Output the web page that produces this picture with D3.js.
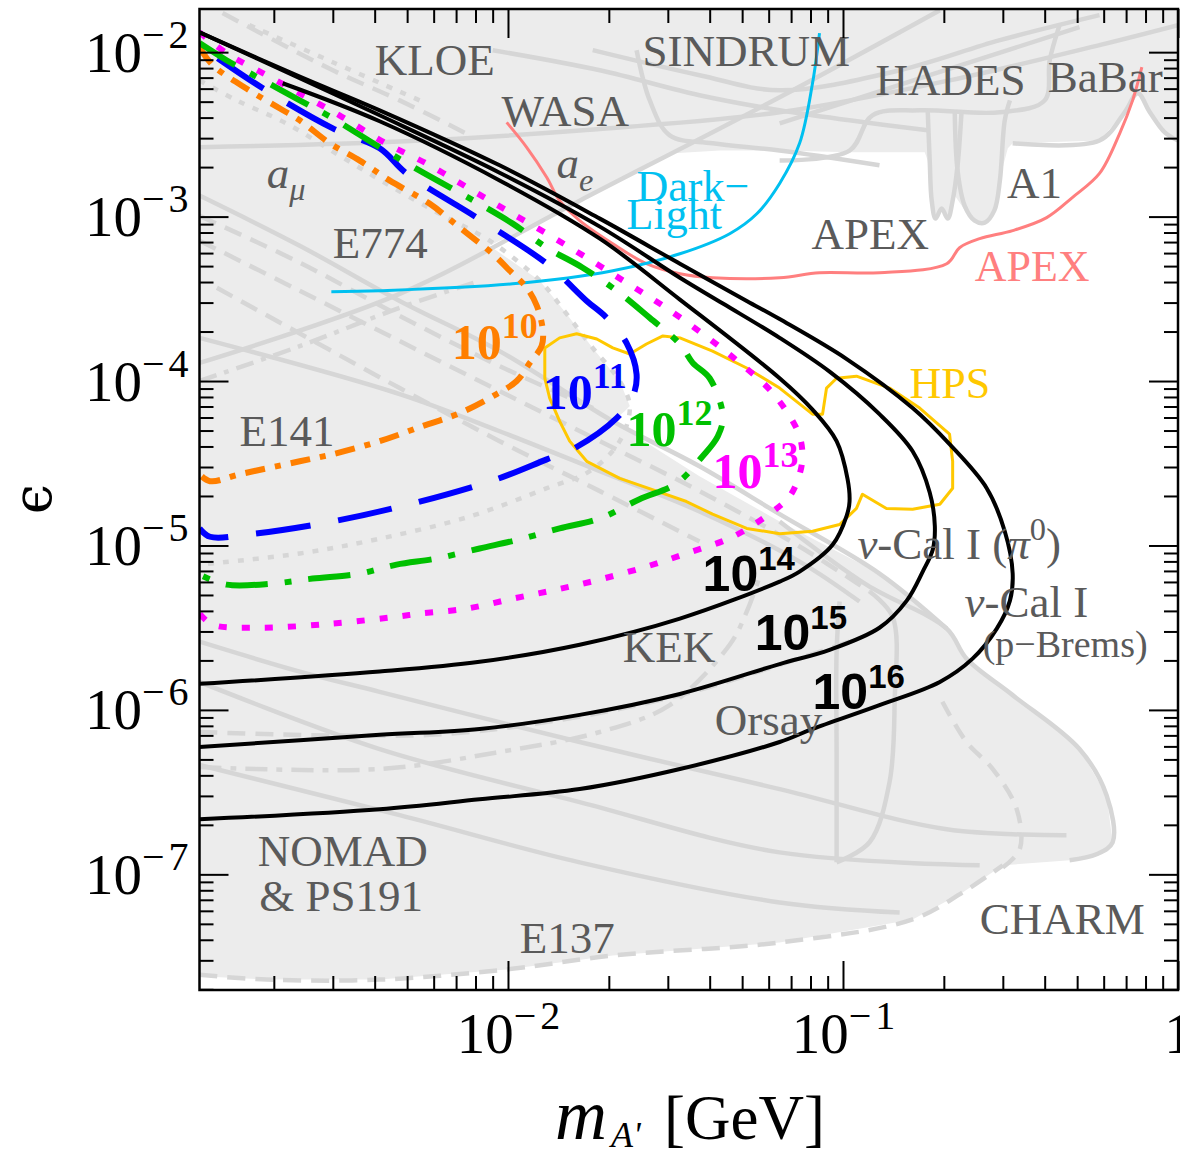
<!DOCTYPE html>
<html><head><meta charset="utf-8">
<script src="https://cdn.jsdelivr.net/npm/d3@7"></script>
<style>body{margin:0;background:#fff}svg{display:block}</style>
</head><body>
<svg id="chart" width="1180" height="1155"></svg>
<script>
// ---------------- DATA (mass in GeV, epsilon) ----------------
const xDomain = [0.0012, 1];
const yDomain = [1.98e-8, 0.0183];
const xTickValues = [0.01, 0.1, 1];
const xTickLabels = [["10","−2"],["10","−1"],["1",""]];
const yTickValues = [1e-7,1e-6,1e-5,1e-4,1e-3,1e-2];
const yTickLabels = [["10","−7"],["10","−6"],["10","−5"],["10","−4"],["10","−3"],["10","−2"]];

const contour10 = [[1.20e-3,1.072e-2],[1.315e-3,8.33e-3],[1.69e-3,5.86e-3],[2.08e-3,4.56e-3],[2.39e-3,3.85e-3],[2.94e-3,2.79e-3],[3.61e-3,2.19e-3],[4.43e-3,1.66e-3],[5.83e-3,1.20e-3],[7.18e-3,8.57e-4],[9.0e-3,5.94e-4],[1.012e-2,4.69e-4],[1.137e-2,3.69e-4],[1.219e-2,2.87e-4],[1.271e-2,2.02e-4],[1.26e-2,1.63e-4],[1.162e-2,1.29e-4],[1.062e-2,1.0e-4],[9.25e-3,8.33e-5],[7.18e-3,6.38e-5],[5.56e-3,5.32e-5],[4.14e-3,4.31e-5],[3.0e-3,3.59e-5],[2.39e-3,3.25e-5],[1.58e-3,2.71e-5],[1.29e-3,2.46e-5],[1.20e-3,2.71e-5]];
const contour11 = [[1.36e-3,9.18e-3],[1.855e-3,6.03e-3],[3.0e-3,3.44e-3],[4.14e-3,2.60e-3],[4.98e-3,1.83e-3],[8.07e-3,9.86e-4],[1.306e-2,5.17e-4],[1.718e-2,3.07e-4],[1.972e-2,2.42e-4],[2.26e-2,1.70e-4],[2.42e-2,1.10e-4],[2.36e-2,8.11e-5],[2.11e-2,5.95e-5],[1.56e-2,3.85e-5],[1.306e-2,3.34e-5],[9.25e-3,2.53e-5],[5.19e-3,1.80e-5],[3.0e-3,1.40e-5],[1.69e-3,1.17e-5],[1.29e-3,1.13e-5],[1.20e-3,1.27e-5]];
const contour12 = [[1.20e-3,1.135e-2],[1.445e-3,8.93e-3],[1.81e-3,6.94e-3],[2.39e-3,5.09e-3],[3.0e-3,3.96e-3],[4.14e-3,2.64e-3],[5.45e-3,1.905e-3],[8.07e-3,1.22e-3],[1.033e-2,9.06e-4],[1.306e-2,6.47e-4],[1.671e-2,4.89e-4],[2.11e-2,3.54e-4],[2.65e-2,2.42e-4],[3.26e-2,1.68e-4],[3.56e-2,1.29e-4],[4.0e-2,1.04e-4],[4.38e-2,6.12e-5],[4.23e-2,4.62e-5],[3.81e-2,3.49e-5],[3.19e-2,2.39e-5],[2.47e-2,1.91e-5],[1.88e-2,1.46e-5],[1.426e-2,1.27e-5],[1.084e-2,1.09e-5],[8.23e-3,9.59e-6],[6.12e-3,8.33e-6],[4.65e-3,7.65e-6],[3.61e-3,6.75e-6],[2.61e-3,6.29e-6],[1.99e-3,5.87e-6],[1.445e-3,5.78e-6],[1.20e-3,6.65e-6]];
const contour13 = [[1.20e-3,1.32e-2],[1.445e-3,9.86e-3],[1.905e-3,7.24e-3],[2.39e-3,5.62e-3],[3.14e-3,4.13e-3],[4.28e-3,2.82e-3],[5.72e-3,2.10e-3],[7.58e-3,1.50e-3],[9.91e-3,1.09e-3],[1.306e-2,7.87e-4],[1.718e-2,5.62e-4],[2.26e-2,3.96e-4],[2.90e-2,2.87e-4],[3.81e-2,1.94e-4],[4.85e-2,1.32e-4],[6.17e-2,8.45e-5],[7.33e-2,4.95e-5],[7.57e-2,3.59e-5],[7.42e-2,2.71e-5],[6.93e-2,1.99e-5],[6.17e-2,1.61e-5],[4.69e-2,1.13e-5],[3.41e-2,8.94e-6],[2.59e-2,7.44e-6],[1.88e-2,6.21e-6],[1.397e-2,5.39e-6],[1.033e-2,4.75e-6],[7.53e-3,4.13e-6],[5.45e-3,3.85e-6],[4.65e-3,3.69e-6],[2.94e-3,3.34e-6],[1.81e-3,3.16e-6],[1.315e-3,3.30e-6],[1.20e-3,3.85e-6]];
const contour14 = [[2.125e-3,6.47e-3],[4.14e-3,3.80e-3],[9.44e-3,1.66e-3],[1.88e-2,7.34e-4],[3.26e-2,3.13e-4],[6.47e-2,1.04e-4],[8.11e-2,6.70e-5],[9.57e-2,4.31e-5],[0.1032,2.53e-5],[0.1046,1.85e-5],[0.1026,1.52e-5],[9.31e-2,1.01e-5],[7.42e-2,6.94e-6],[6.47e-2,6.03e-6],[3.26e-2,3.59e-6],[1.637e-2,2.49e-6],[8.23e-3,1.96e-6],[4.14e-3,1.71e-6],[1.20e-3,1.44e-6]];
const contour15 = [[1.20e-3,1.32e-2],[2.39e-3,6.94e-3],[4.14e-3,4.13e-3],[9.44e-3,1.85e-3],[1.88e-2,8.69e-4],[3.26e-2,4.25e-4],[4.38e-2,2.96e-4],[6.47e-2,1.83e-4],[9.12e-2,1.14e-4],[0.1285,6.29e-5],[0.1614,3.74e-5],[0.1815,2.10e-5],[0.188,1.31e-5],[0.1854,9.46e-6],[0.173,6.94e-6],[0.155,4.62e-6],[0.1285,3.16e-6],[9.12e-2,2.32e-6],[6.47e-2,1.90e-6],[3.26e-2,1.25e-6],[1.637e-2,9.33e-7],[8.23e-3,7.66e-7],[4.14e-3,7.05e-7],[1.20e-3,5.95e-7]];
const contour16 = [[1.20e-3,1.32e-2],[2.39e-3,7.10e-3],[4.14e-3,4.43e-3],[9.44e-3,2.05e-3],[1.88e-2,9.72e-4],[3.26e-2,5.17e-4],[5.16e-2,3.07e-4],[6.47e-2,2.38e-4],[0.1026,1.36e-4],[0.1614,6.85e-5],[0.208,4.13e-5],[0.2685,2.23e-5],[0.304,1.22e-5],[0.321,6.75e-6],[0.315,4.62e-6],[0.2878,3.12e-6],[0.2437,2.05e-6],[0.1946,1.48e-6],[0.1285,1.07e-6],[8.11e-2,7.66e-7],[6.47e-2,6.38e-7],[3.26e-2,4.37e-7],[1.637e-2,3.30e-7],[8.23e-3,2.86e-7],[4.14e-3,2.49e-7],[1.20e-3,2.16e-7]];
const grayContour = [[1.20e-3,6.74e-3],[1.549e-3,5.09e-3],[2.18e-3,3.69e-3],[3.14e-3,2.35e-3],[4.43e-3,1.545e-3],[6.25e-3,1.04e-3],[8.81e-3,7.14e-4],[1.245e-2,4.07e-4],[1.496e-2,2.56e-4],[1.79e-2,1.59e-4],[2.155e-2,1.0e-4],[2.31e-2,7.05e-5],[2.155e-2,4.31e-5],[1.754e-2,2.83e-5],[1.306e-2,2.23e-5],[7.69e-3,1.50e-5],[4.14e-3,1.10e-5],[2.39e-3,8.94e-6],[1.20e-3,7.65e-6]];

const darkLight = [[2.97e-3,3.49e-4],[4.14e-3,3.54e-4],[1.033e-2,3.90e-4],[2.055e-2,4.69e-4],[3.26e-2,5.94e-4],[4.59e-2,7.87e-4],[5.53e-2,1.04e-3],[6.47e-2,1.59e-3],[7.42e-2,2.79e-3],[8.11e-2,6.47e-3],[8.51e-2,1.306e-2]];
const apexLine = [[9.91e-3,3.74e-3],[1.137e-2,2.64e-3],[1.306e-2,1.73e-3],[1.426e-2,1.25e-3],[1.637e-2,9.46e-4],[2.055e-2,6.84e-4],[2.59e-2,5.17e-4],[3.26e-2,4.49e-4],[4.08e-2,4.25e-4],[6.47e-2,4.25e-4],[8.51e-2,4.56e-4],[0.1285,4.56e-4],[0.204,5.17e-4],[0.2228,6.47e-4],[0.2559,7.34e-4],[0.321,8.22e-4],[0.4055,9.86e-4],[0.4846,1.31e-3],[0.583,1.83e-3],[0.670,3.21e-3],[0.732,5.09e-3],[0.780,8.1e-3]];
const hpsRegion = [[1.288e-2,1.59e-4],[1.426e-2,1.83e-4],[1.603e-2,1.94e-4],[1.841e-2,1.80e-4],[2.055e-2,1.59e-4],[2.31e-2,1.46e-4],[2.59e-2,1.68e-4],[2.90e-2,1.88e-4],[3.26e-2,1.83e-4],[4.08e-2,1.52e-4],[5.16e-2,1.20e-4],[6.47e-2,9.06e-5],[8.11e-2,6.29e-5],[8.69e-2,6.29e-5],[8.93e-2,9.06e-5],[9.57e-2,1.04e-4],[0.1097,1.07e-4],[0.1377,9.06e-5],[0.1694,6.85e-5],[0.208,4.75e-5],[0.2125,3.25e-5],[0.2125,2.23e-5],[0.1946,1.78e-5],[0.1614,1.66e-5],[0.1348,1.68e-5],[0.1143,2.05e-5],[0.1097,1.68e-5],[9.77e-2,1.34e-5],[8.11e-2,1.22e-5],[6.47e-2,1.18e-5],[5.16e-2,1.27e-5],[4.08e-2,1.55e-5],[3.41e-2,1.85e-5],[2.78e-2,2.14e-5],[2.155e-2,2.56e-5],[1.718e-2,3.25e-5],[1.528e-2,4.31e-5],[1.426e-2,5.70e-5],[1.332e-2,7.88e-5],[1.288e-2,1.04e-4]];

// region not excluded (white)
const allowedRegion = [[8.81e-3,6.65e-4],[1.637e-2,1.25e-3],[3.04e-2,2.42e-3],[4.29e-2,2.52e-3],[6.47e-2,2.52e-3],[0.1046,2.46e-3],[0.1754,2.46e-3],[0.179,2.19e-3],[0.184,1.25e-3],[0.189,9.72e-4],[0.197,1.12e-3],[0.2054,9.72e-4],[0.2155,1.343e-3],[0.226,1.167e-3],[0.2388,9.72e-4],[0.2559,9.06e-4],[0.2742,9.72e-4],[0.2878,1.25e-3],[0.298,1.905e-3],[0.3105,2.60e-3],[0.321,2.79e-3],[0.583,2.9e-3],[0.693,4.31e-3],[0.758,5.62e-3],[0.824,4.31e-3],[0.913,3.25e-3],[1.05,2.9e-3],[1.05,1e-8],[1e-3,1e-8],[1e-3,2.45e-8],[1.905e-3,2.29e-8],[4.14e-3,2.29e-8],[9.91e-3,2.64e-8],[2.055e-2,3.21e-8],[6.47e-2,3.85e-8],[0.1614,5.32e-8],[0.2275,7.76e-8],[0.300,1.135e-7],[0.4747,1.217e-7],[0.571,1.324e-7],[0.638,1.567e-7],[0.612,3.03e-7],[0.508,5.78e-7],[0.321,1.23e-6],[0.2337,2.05e-6],[0.2125,2.79e-6],[0.204,3.21e-6],[0.1285,6.75e-6],[6.47e-2,1.40e-5],[3.73e-2,2.64e-5],[2.055e-2,5.70e-5],[2.23e-2,6.56e-5],[2.31e-2,7.05e-5],[2.155e-2,1.0e-4],[1.79e-2,1.59e-4],[1.496e-2,2.56e-4],[1.245e-2,4.07e-4]];

// gray experiment boundaries
const aeLine = [[1.20e-3,1.29e-4],[4.75e-3,3.39e-4],[1.637e-2,1.25e-3],[6.47e-2,5.32e-3],[0.1946,1.80e-2]];
const amuLine = [[1.20e-3,2.64e-3],[4.75e-3,2.86e-3],[1.637e-2,3.34e-3],[6.47e-2,4.31e-3],[0.208,6.74e-3],[0.583,1.104e-2],[1.0,1.46e-2]];
const kloeLine = [[9.0e-3,1.028e-2],[1.88e-2,7.76e-3],[3.73e-2,5.47e-3],[6.47e-2,4.43e-3],[0.1046,3.85e-3],[0.1815,3.34e-3]];
const wasaLine = [[1.79e-2,1.028e-2],[3.73e-2,7.24e-3],[6.47e-2,5.86e-3],[0.1476,7.76e-3],[0.294,1.183e-2],[0.583,1.68e-2]];
const sindrumLine = [[2.42e-2,1.028e-2],[2.65e-2,5.09e-3],[3.04e-2,3.12e-3],[4.08e-2,2.79e-3],[6.47e-2,2.52e-3],[0.1285,2.05e-3]];
const hadesLine = [[6.47e-2,2.19e-3],[0.1046,2.52e-3],[0.1224,4.13e-3],[0.1694,4.43e-3],[0.294,4.31e-3],[0.400,5.09e-3],[0.414,8.93e-3],[0.443,1.46e-2]];
const risingLine = [[6.47e-2,3.69e-3],[0.1815,7.24e-3],[0.508,1.42e-2]];
const babarLine = [[0.321,2.79e-3],[0.583,2.9e-3],[0.693,4.31e-3],[0.758,5.62e-3],[0.824,4.31e-3],[0.913,3.25e-3],[1.0,2.9e-3]];
const a1DipLeft = [[0.179,4.43e-3],[0.1815,2.19e-3],[0.184,1.25e-3],[0.189,9.72e-4],[0.197,1.12e-3],[0.2054,9.72e-4],[0.2125,1.25e-3],[0.2198,2.05e-3],[0.226,4.43e-3]];
const a1DipRight = [[0.2155,4.43e-3],[0.2198,1.905e-3],[0.2307,1.167e-3],[0.2472,9.46e-4],[0.265,9.19e-4],[0.283,1.09e-3],[0.294,1.66e-3],[0.304,3.85e-3],[0.315,5.09e-3]];
const e774Upper = [[1.406e-3,1.73e-2],[3.0e-3,7.76e-3],[4.75e-3,5.09e-3],[7.69e-3,3.12e-3]];
const e774Dots = [[1.69e-3,1.46e-2],[3.0e-3,8.69e-3],[5.45e-3,5.09e-3]];
const bandA = [[1.20e-3,1.343e-3],[2.39e-3,6.65e-4],[4.75e-3,3.07e-4],[9.44e-3,1.52e-4],[2.055e-2,5.70e-5],[3.73e-2,3.03e-5],[6.47e-2,1.55e-5],[0.1285,6.75e-6],[0.204,3.12e-6]];
const bandB = [[1.20e-3,1.01e-3],[2.39e-3,5.25e-4],[4.75e-3,2.49e-4],[9.44e-3,1.233e-4],[1.88e-2,6.56e-5]];
const bandC = [[1.20e-3,7.14e-4],[2.39e-3,3.54e-4],[4.75e-3,1.75e-4],[9.44e-3,8.69e-5],[1.88e-2,4.31e-5],[3.73e-2,2.14e-5],[7.42e-2,9.86e-6],[0.120,5.25e-6]];
const bandD = [[1.20e-3,1.83e-4],[4.75e-3,8.33e-5],[9.44e-3,4.95e-5],[1.88e-2,2.83e-5],[3.73e-2,1.61e-5],[7.42e-2,7.98e-6],[0.112,4.56e-6]];
const bandE = [[1.352e-3,3.69e-4],[4.75e-3,9.06e-5],[9.44e-3,4.31e-5],[1.88e-2,2.14e-5],[3.73e-2,1.057e-5]];
const e141Upper = [[1.20e-3,1.0e-4],[2.39e-3,1.63e-4],[4.75e-3,2.79e-4],[8.23e-3,4.07e-4]];
const lowA = [[1.20e-3,2.60e-6],[2.39e-3,1.71e-6],[4.14e-3,1.288e-6],[1.637e-2,6.38e-7],[6.47e-2,3.30e-7],[0.204,1.88e-7],[0.4645,1.73e-7]];
const lowB = [[1.20e-3,1.48e-6],[4.14e-3,5.78e-7],[1.637e-2,2.75e-7],[6.47e-2,1.36e-7],[0.2559,1.135e-7]];
const orsayLine = [[1.20e-3,4.49e-7],[4.14e-3,4.37e-7],[9.44e-3,5.55e-7],[1.88e-2,7.34e-7],[3.04e-2,1.07e-6],[4.59e-2,2.49e-6],[5.16e-2,3.96e-6],[5.64e-2,6.47e-6]];
const kekLine = [[1.20e-3,7.34e-7],[5.83e-3,7.05e-7],[1.426e-2,8.69e-7],[3.26e-2,1.23e-6],[6.47e-2,1.88e-6],[0.1046,2.60e-6]];
const nomadLine = [[1.20e-3,4.62e-7],[4.75e-3,2.29e-7],[1.637e-2,1.183e-7],[6.47e-2,6.75e-8],[0.1476,5.86e-8]];
const nuCalA = [[9.77e-2,4.56e-6],[9.57e-2,2.26e-6],[9.57e-2,5.55e-7],[9.57e-2,1.183e-7]];
const nuCalB = [[0.120,5.25e-6],[0.1406,3.69e-6],[0.1426,1.12e-6],[0.1377,3.64e-7],[0.120,1.567e-7],[9.57e-2,1.183e-7]];
const charmInner = [[0.198,1.12e-6],[0.2337,6.38e-7],[0.280,4.37e-7],[0.330,2.49e-7],[0.337,1.42e-7],[0.300,1.10e-7]];
const nuCalOuter = [[6.47e-2,1.40e-5],[0.1175,5.78e-6],[0.204,3.12e-6],[0.2337,2.05e-6],[0.321,1.23e-6],[0.508,5.78e-7],[0.612,3.03e-7],[0.638,1.567e-7],[0.571,1.324e-7],[0.4747,1.217e-7]];
const e137Line = [[1.20e-3,2.45e-8],[1.905e-3,2.29e-8],[4.14e-3,2.29e-8],[9.91e-3,2.64e-8],[2.055e-2,3.21e-8],[6.47e-2,3.85e-8],[0.1614,5.32e-8],[0.2275,7.76e-8],[0.300,1.135e-7]];

// labels: text parts and anchor (m, epsilon)
const grayLabelParts = [
 [["KLOE",""]],[["SINDRUM",""]],[["HADES",""]],[["BaBar",""]],[["WASA",""]],
 [["a","i"],["μ","subi"]],[["a","i"],["e","subi"]],[["A1",""]],[["APEX",""]],[["E774",""]],[["E141",""]],
 [["ν","i"],["-Cal I (",""],["π","i"],["0","sup"],[")",""]],[["ν","i"],["-Cal I",""]],
 [["KEK",""]],[["Orsay",""]],[["NOMAD",""]],[["& PS191",""]],[["E137",""]],[["CHARM",""]]
];
const grayLabelAt = [[4.0e-3,7.24e-3],[2.52e-2,8.22e-3],[0.125,5.47e-3],[0.4085,5.70e-3],[9.57e-3,3.54e-3],
 [1.905e-3,1.50e-3],[1.397e-2,1.706e-3],[0.3085,1.29e-3],[8.05e-2,6.38e-4],[3.0e-3,5.62e-4],[1.58e-3,4.02e-5],
 [0.1104,8.33e-6],[0.2307,3.69e-6],[2.2e-2,1.96e-6],[4.14e-2,7.05e-7],[1.79e-3,1.12e-7],[1.81e-3,5.95e-8],[1.084e-2,3.34e-8],[0.2559,4.31e-8]];
const pBremsAt = [0.2612,2.10e-6];
const colorLabelText = ["HPS","Dark−","Light","APEX"];
const colorLabelAt = [[0.158,7.88e-5],[2.42e-2,1.25e-3],[2.26e-2,8.4e-4],[0.2472,4.07e-4]];
const contourExponents = ["10","11","12","13","14","15","16"];
const contourLabelAt = [[6.79e-3,1.36e-4],[1.271e-2,6.75e-5],[2.26e-2,4.02e-5],[4.08e-2,2.23e-5],[3.81e-2,5.25e-6],[5.45e-2,2.32e-6],[8.11e-2,1.01e-6]];

// ---------------- DRAWING ----------------
const P = {left:199.5, right:1178, top:9, bottom:990};
const x = d3.scaleLog().domain(xDomain).range([P.left, P.right]);
const y = d3.scaleLog().domain(yDomain).range([P.bottom, P.top]);
const svg = d3.select('#chart');
const SERIF = "'Liberation Serif','Times New Roman',serif";
const SANS = "'Liberation Sans',Arial,sans-serif";

svg.append('defs').append('clipPath').attr('id','clip').append('rect')
  .attr('x',P.left).attr('y',P.top).attr('width',P.right-P.left).attr('height',P.bottom-P.top);
const g = svg.append('g').attr('clip-path','url(#clip)');

const smooth = d3.line().x(d=>x(d[0])).y(d=>y(d[1])).curve(d3.curveCatmullRom.alpha(0.5));
const closed = d3.line().x(d=>x(d[0])).y(d=>y(d[1])).curve(d3.curveLinearClosed);

g.append('rect').attr('x',P.left).attr('y',P.top).attr('width',P.right-P.left).attr('height',P.bottom-P.top).attr('fill','#ececec');
g.append('path').attr('d',closed(allowedRegion)).attr('fill','#fff');

const GL = '#d6d6d6';
const grayDefs = [
 [aeLine,null],[amuLine,null],[kloeLine,null],[wasaLine,null],[sindrumLine,null],[hadesLine,null],[risingLine,null],
 [babarLine,null],[a1DipLeft,null],[a1DipRight,null],[e774Upper,'18,10'],[e774Dots,'6,9'],
 [bandA,null],[bandB,'18,10'],[bandC,'18,10'],[bandD,null],[bandE,'18,10'],[e141Upper,'18,8,5,8'],
 [lowA,null],[lowB,null],[orsayLine,'22,9,6,9'],[kekLine,'18,10'],[nomadLine,null],
 [nuCalA,null],[nuCalB,null],[charmInner,'16,10'],[nuCalOuter,null],[e137Line,'18,10'],[grayContour,'6,9']
];
grayDefs.forEach(([pts,dash])=>{
  g.append('path').attr('d',smooth(pts)).attr('fill','none').attr('stroke',GL)
   .attr('stroke-width',4.5).attr('stroke-dasharray',dash);
});

g.append('path').attr('d',closed(hpsRegion)).attr('fill','none').attr('stroke','#ffc800').attr('stroke-width',3).attr('stroke-linejoin','round');
g.append('path').attr('d',smooth(apexLine)).attr('fill','none').attr('stroke','#ff7f7f').attr('stroke-width',3);
g.append('path').attr('d',smooth(darkLight)).attr('fill','none').attr('stroke','#00c0f0').attr('stroke-width',3);

const contourStyles = [
 [contour10,'#ff7f00','20,10,6,10',6],
 [contour11,'#0000ff','55,28',6],
 [contour12,'#00c000','42,17,7,17',6],
 [contour13,'#ff00ff','8,15',6],
 [contour14,'#000',null,4],
 [contour15,'#000',null,4],
 [contour16,'#000',null,4]
];
contourStyles.forEach(([pts,col,dash,w])=>{
  g.append('path').attr('d',smooth(pts)).attr('fill','none').attr('stroke',col)
   .attr('stroke-width',w).attr('stroke-dasharray',dash).attr('stroke-linecap','butt');
});

function rich(sel, parts, size){
  let cur = 0;
  parts.forEach(([s,k])=>{
    const t = sel.append('tspan').text(s);
    let off = 0, fs = size;
    if (k.startsWith('sub')) { off = size*0.28; fs = size*0.72; }
    if (k.startsWith('sup')) { off = -size*0.42; fs = size*0.72; }
    if (k.endsWith('i')) t.attr('font-style','italic');
    t.attr('font-size',fs).attr('dy',off-cur);
    cur = off;
  });
}

const labels = svg.append('g');
grayLabelParts.forEach((parts,i)=>{
  const t = labels.append('text').attr('x',x(grayLabelAt[i][0])).attr('y',y(grayLabelAt[i][1]))
    .attr('font-family',SERIF).attr('fill','#5a5a5a').attr('font-size',45);
  rich(t, parts, 45);
});
labels.append('text').attr('x',x(pBremsAt[0])).attr('y',y(pBremsAt[1])).attr('font-family',SERIF)
  .attr('fill','#5a5a5a').attr('font-size',38).text('(p−Brems)');
const colorLabelFill = ['#ffc800','#00c0f0','#00c0f0','#ff7f7f'];
colorLabelText.forEach((s,i)=>{
  labels.append('text').attr('x',x(colorLabelAt[i][0])).attr('y',y(colorLabelAt[i][1]))
   .attr('font-family',SERIF).attr('font-size',44).attr('fill',colorLabelFill[i]).text(s);
});
const contourColors = ['#ff7f00','#0000ff','#00c000','#ff00ff','#000','#000','#000'];
contourExponents.forEach((e,i)=>{
  const sans = i>=4;
  const fs = 50;
  const t = labels.append('text').attr('x',x(contourLabelAt[i][0])).attr('y',y(contourLabelAt[i][1]))
   .attr('font-family',sans?SANS:SERIF).attr('font-weight','bold').attr('fill',contourColors[i]).attr('font-size',fs);
  t.append('tspan').text('10');
  t.append('tspan').text(e).attr('font-size',sans?33:36).attr('dy',-fs*0.42);
});

// ---------------- AXES ----------------
function minorTicks(dom){
  const out=[];
  for(let k=-9;k<=0;k++) for(let j=2;j<=9;j++){ const v=j*Math.pow(10,k); if(v>dom[0]&&v<dom[1]) out.push(v); }
  return out;
}
const xMinor = minorTicks(xDomain), yMinor = minorTicks(yDomain);
const axes = [
 [d3.axisBottom, x, xMinor, xTickValues, `translate(0,${P.bottom})`],
 [d3.axisTop, x, xMinor, xTickValues, `translate(0,${P.top})`],
 [d3.axisLeft, y, yMinor, yTickValues, `translate(${P.left},0)`],
 [d3.axisRight, y, yMinor, yTickValues, `translate(${P.right},0)`]
];
const majorGroups = axes.map(([mk,sc,mi,ma,tr])=>{
  const gm = svg.append('g').attr('transform',tr).call(mk(sc).tickValues(mi).tickSize(-14).tickFormat(''));
  const gj = svg.append('g').attr('transform',tr).call(mk(sc).tickValues(ma).tickSize(-29).tickFormat(''));
  [gm,gj].forEach(a=>{ a.select('.domain').remove(); a.selectAll('line').attr('stroke','#000').attr('stroke-width',2); });
  return gj;
});
svg.append('rect').attr('x',P.left).attr('y',P.top).attr('width',P.right-P.left).attr('height',P.bottom-P.top)
  .attr('fill','none').attr('stroke','#000').attr('stroke-width',2.5);

majorGroups[0].selectAll('.tick').each(function(d,i){
  const [b,s] = xTickLabels[i];
  const t = d3.select(this).append('text').attr('y',63).attr('text-anchor','middle')
    .attr('font-family',SERIF).attr('font-size',57).attr('fill','#000');
  t.append('tspan').text(b);
  if (s) { t.append('tspan').text(s[0]).attr('font-size',40).attr('dy',-24);
           t.append('tspan').text(s.slice(1)).attr('font-size',40).attr('dx',4); }
});
majorGroups[2].selectAll('.tick').each(function(d,i){
  const [b,s] = yTickLabels[i];
  const t = d3.select(this).append('text').attr('x',-11).attr('y',19).attr('text-anchor','end')
    .attr('font-family',SERIF).attr('font-size',57).attr('fill','#000');
  t.append('tspan').text(b);
  t.append('tspan').text(s[0]).attr('font-size',40).attr('dy',-24);
  t.append('tspan').text(s.slice(1)).attr('font-size',40).attr('dx',4);
});

// axis titles
const xt = svg.append('g').attr('font-family',SERIF).attr('fill','#000');
xt.append('text').attr('x',555).attr('y',1139).attr('font-size',72).attr('font-style','italic').text('m');
xt.append('text').attr('x',611).attr('y',1147).attr('font-size',36).attr('font-style','italic').text("A'");
xt.append('text').attr('x',664).attr('y',1139).attr('font-size',63).text('[GeV]');
svg.append('text').attr('transform','translate(51,499) rotate(-90)').attr('text-anchor','middle')
  .attr('font-family',"'DejaVu Serif',serif").attr('font-size',54).attr('fill','#000').text('ϵ');
</script>
</body></html>
